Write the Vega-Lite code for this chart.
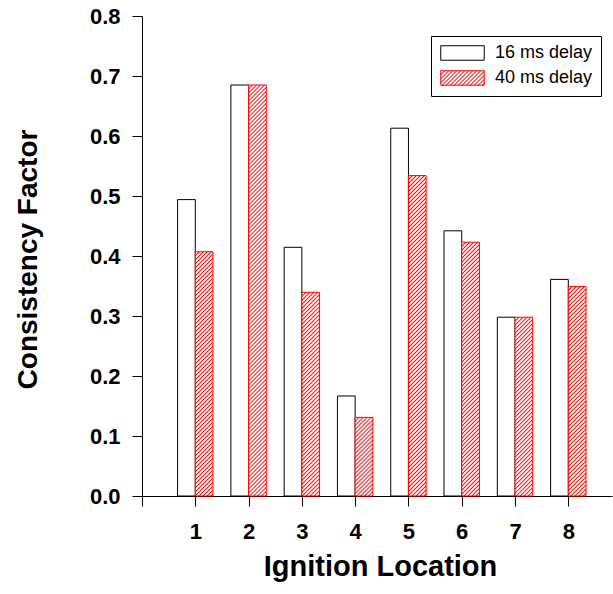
{
  "$schema": "https://vega.github.io/schema/vega-lite/v6.json",
  "width": 470,
  "height": 480,
  "autosize": {"type": "none"},
  "padding": {"left": 142, "top": 16, "right": 1, "bottom": 98},
  "background": "white",
  "params": [
    {"name": "hs", "value": [
      {"offset":0,"color":"red"},{"offset":0.003,"color":"white"},{"offset":0.006,"color":"white"},
      {"offset":0.009,"color":"red"},{"offset":0.012,"color":"white"},{"offset":0.015,"color":"white"},
      {"offset":0.018,"color":"red"},{"offset":0.021,"color":"white"},{"offset":0.024,"color":"white"},
      {"offset":0.027,"color":"red"},{"offset":0.030,"color":"white"},{"offset":0.033,"color":"white"},
      {"offset":0.036,"color":"red"},{"offset":0.039,"color":"white"},{"offset":0.042,"color":"white"},
      {"offset":0.045,"color":"red"},{"offset":0.048,"color":"white"},{"offset":0.051,"color":"white"},
      {"offset":0.054,"color":"red"},{"offset":0.057,"color":"white"},{"offset":0.060,"color":"white"},
      {"offset":0.063,"color":"red"},{"offset":0.066,"color":"white"},{"offset":0.069,"color":"white"},
      {"offset":0.072,"color":"red"},{"offset":0.075,"color":"white"},{"offset":0.078,"color":"white"},
      {"offset":0.081,"color":"red"},{"offset":0.084,"color":"white"},{"offset":0.087,"color":"white"},
      {"offset":0.090,"color":"red"},{"offset":0.093,"color":"white"},{"offset":0.096,"color":"white"},
      {"offset":0.099,"color":"red"},{"offset":0.102,"color":"white"},{"offset":0.105,"color":"white"},
      {"offset":0.108,"color":"red"},{"offset":0.111,"color":"white"},{"offset":0.114,"color":"white"},
      {"offset":0.117,"color":"red"},{"offset":0.120,"color":"white"},{"offset":0.123,"color":"white"},
      {"offset":0.126,"color":"red"},{"offset":0.129,"color":"white"},{"offset":0.132,"color":"white"},
      {"offset":0.135,"color":"red"},{"offset":0.138,"color":"white"},{"offset":0.141,"color":"white"},
      {"offset":0.144,"color":"red"},{"offset":0.147,"color":"white"},{"offset":0.150,"color":"white"},
      {"offset":0.153,"color":"red"},{"offset":0.156,"color":"white"},{"offset":0.159,"color":"white"},
      {"offset":0.162,"color":"red"},{"offset":0.165,"color":"white"},{"offset":0.168,"color":"white"},
      {"offset":0.171,"color":"red"},{"offset":0.174,"color":"white"},{"offset":0.177,"color":"white"},
      {"offset":0.180,"color":"red"},{"offset":0.183,"color":"white"},{"offset":0.186,"color":"white"},
      {"offset":0.189,"color":"red"},{"offset":0.192,"color":"white"},{"offset":0.195,"color":"white"},
      {"offset":0.198,"color":"red"},{"offset":0.201,"color":"white"},{"offset":0.204,"color":"white"},
      {"offset":0.207,"color":"red"},{"offset":0.210,"color":"white"},{"offset":0.213,"color":"white"},
      {"offset":0.216,"color":"red"},{"offset":0.219,"color":"white"},{"offset":0.222,"color":"white"},
      {"offset":0.225,"color":"red"},{"offset":0.228,"color":"white"},{"offset":0.231,"color":"white"},
      {"offset":0.234,"color":"red"},{"offset":0.237,"color":"white"},{"offset":0.240,"color":"white"},
      {"offset":0.243,"color":"red"},{"offset":0.246,"color":"white"},{"offset":0.249,"color":"white"},
      {"offset":0.252,"color":"red"},{"offset":0.255,"color":"white"},{"offset":0.258,"color":"white"},
      {"offset":0.261,"color":"red"},{"offset":0.264,"color":"white"},{"offset":0.267,"color":"white"},
      {"offset":0.270,"color":"red"},{"offset":0.273,"color":"white"},{"offset":0.276,"color":"white"},
      {"offset":0.279,"color":"red"},{"offset":0.282,"color":"white"},{"offset":0.285,"color":"white"},
      {"offset":0.288,"color":"red"},{"offset":0.291,"color":"white"},{"offset":0.294,"color":"white"},
      {"offset":0.297,"color":"red"},{"offset":0.300,"color":"white"},{"offset":0.303,"color":"white"},
      {"offset":0.306,"color":"red"},{"offset":0.309,"color":"white"},{"offset":0.312,"color":"white"},
      {"offset":0.315,"color":"red"},{"offset":0.318,"color":"white"},{"offset":0.321,"color":"white"},
      {"offset":0.324,"color":"red"},{"offset":0.327,"color":"white"},{"offset":0.330,"color":"white"},
      {"offset":0.333,"color":"red"},{"offset":0.336,"color":"white"},{"offset":0.339,"color":"white"},
      {"offset":0.342,"color":"red"},{"offset":0.345,"color":"white"},{"offset":0.348,"color":"white"},
      {"offset":0.351,"color":"red"},{"offset":0.354,"color":"white"},{"offset":0.357,"color":"white"},
      {"offset":0.360,"color":"red"},{"offset":0.363,"color":"white"},{"offset":0.366,"color":"white"},
      {"offset":0.369,"color":"red"},{"offset":0.372,"color":"white"},{"offset":0.375,"color":"white"},
      {"offset":0.378,"color":"red"},{"offset":0.381,"color":"white"},{"offset":0.384,"color":"white"},
      {"offset":0.387,"color":"red"},{"offset":0.390,"color":"white"},{"offset":0.393,"color":"white"},
      {"offset":0.396,"color":"red"},{"offset":0.399,"color":"white"},{"offset":0.402,"color":"white"},
      {"offset":0.405,"color":"red"},{"offset":0.408,"color":"white"},{"offset":0.411,"color":"white"},
      {"offset":0.414,"color":"red"},{"offset":0.417,"color":"white"},{"offset":0.420,"color":"white"},
      {"offset":0.423,"color":"red"},{"offset":0.426,"color":"white"},{"offset":0.429,"color":"white"},
      {"offset":0.432,"color":"red"},{"offset":0.435,"color":"white"},{"offset":0.438,"color":"white"},
      {"offset":0.441,"color":"red"},{"offset":0.444,"color":"white"},{"offset":0.447,"color":"white"},
      {"offset":0.450,"color":"red"},{"offset":0.453,"color":"white"},{"offset":0.456,"color":"white"},
      {"offset":0.459,"color":"red"},{"offset":0.462,"color":"white"},{"offset":0.465,"color":"white"},
      {"offset":0.468,"color":"red"},{"offset":0.471,"color":"white"},{"offset":0.474,"color":"white"},
      {"offset":0.477,"color":"red"},{"offset":0.480,"color":"white"},{"offset":0.483,"color":"white"},
      {"offset":0.486,"color":"red"},{"offset":0.489,"color":"white"},{"offset":0.492,"color":"white"},
      {"offset":0.495,"color":"red"},{"offset":0.498,"color":"white"},{"offset":0.501,"color":"white"},
      {"offset":0.504,"color":"red"},{"offset":0.507,"color":"white"},{"offset":0.510,"color":"white"},
      {"offset":0.513,"color":"red"},{"offset":0.516,"color":"white"},{"offset":0.519,"color":"white"},
      {"offset":0.522,"color":"red"},{"offset":0.525,"color":"white"},{"offset":0.528,"color":"white"},
      {"offset":0.531,"color":"red"},{"offset":0.534,"color":"white"},{"offset":0.537,"color":"white"},
      {"offset":0.540,"color":"red"},{"offset":0.543,"color":"white"},{"offset":0.546,"color":"white"},
      {"offset":0.549,"color":"red"},{"offset":0.552,"color":"white"},{"offset":0.555,"color":"white"},
      {"offset":0.558,"color":"red"},{"offset":0.561,"color":"white"},{"offset":0.564,"color":"white"},
      {"offset":0.567,"color":"red"},{"offset":0.570,"color":"white"},{"offset":0.573,"color":"white"},
      {"offset":0.576,"color":"red"},{"offset":0.579,"color":"white"},{"offset":0.582,"color":"white"},
      {"offset":0.585,"color":"red"},{"offset":0.588,"color":"white"},{"offset":0.591,"color":"white"},
      {"offset":0.594,"color":"red"},{"offset":0.597,"color":"white"},{"offset":0.600,"color":"white"},
      {"offset":0.603,"color":"red"},{"offset":0.606,"color":"white"},{"offset":0.609,"color":"white"},
      {"offset":0.612,"color":"red"},{"offset":0.615,"color":"white"},{"offset":0.618,"color":"white"},
      {"offset":0.621,"color":"red"},{"offset":0.624,"color":"white"},{"offset":0.627,"color":"white"},
      {"offset":0.630,"color":"red"},{"offset":0.633,"color":"white"},{"offset":0.636,"color":"white"},
      {"offset":0.639,"color":"red"},{"offset":0.642,"color":"white"},{"offset":0.645,"color":"white"},
      {"offset":0.648,"color":"red"},{"offset":0.651,"color":"white"},{"offset":0.654,"color":"white"},
      {"offset":0.657,"color":"red"},{"offset":0.660,"color":"white"},{"offset":0.663,"color":"white"},
      {"offset":0.666,"color":"red"},{"offset":0.669,"color":"white"},{"offset":0.672,"color":"white"},
      {"offset":0.675,"color":"red"},{"offset":0.678,"color":"white"},{"offset":0.681,"color":"white"},
      {"offset":0.684,"color":"red"},{"offset":0.687,"color":"white"},{"offset":0.690,"color":"white"},
      {"offset":0.693,"color":"red"},{"offset":0.696,"color":"white"},{"offset":0.699,"color":"white"},
      {"offset":0.702,"color":"red"},{"offset":0.705,"color":"white"},{"offset":0.708,"color":"white"},
      {"offset":0.711,"color":"red"},{"offset":0.714,"color":"white"},{"offset":0.717,"color":"white"},
      {"offset":0.720,"color":"red"},{"offset":0.723,"color":"white"},{"offset":0.726,"color":"white"},
      {"offset":0.729,"color":"red"},{"offset":0.732,"color":"white"},{"offset":0.735,"color":"white"},
      {"offset":0.738,"color":"red"},{"offset":0.741,"color":"white"},{"offset":0.744,"color":"white"},
      {"offset":0.747,"color":"red"},{"offset":0.750,"color":"white"},{"offset":0.753,"color":"white"},
      {"offset":0.756,"color":"red"},{"offset":0.759,"color":"white"},{"offset":0.762,"color":"white"},
      {"offset":0.765,"color":"red"},{"offset":0.768,"color":"white"},{"offset":0.771,"color":"white"},
      {"offset":0.774,"color":"red"},{"offset":0.777,"color":"white"},{"offset":0.780,"color":"white"},
      {"offset":0.783,"color":"red"},{"offset":0.786,"color":"white"},{"offset":0.789,"color":"white"},
      {"offset":0.792,"color":"red"},{"offset":0.795,"color":"white"},{"offset":0.798,"color":"white"},
      {"offset":0.801,"color":"red"},{"offset":0.804,"color":"white"},{"offset":0.807,"color":"white"},
      {"offset":0.810,"color":"red"},{"offset":0.813,"color":"white"},{"offset":0.816,"color":"white"},
      {"offset":0.819,"color":"red"},{"offset":0.822,"color":"white"},{"offset":0.825,"color":"white"},
      {"offset":0.828,"color":"red"},{"offset":0.831,"color":"white"},{"offset":0.834,"color":"white"},
      {"offset":0.837,"color":"red"},{"offset":0.840,"color":"white"},{"offset":0.843,"color":"white"},
      {"offset":0.846,"color":"red"},{"offset":0.849,"color":"white"},{"offset":0.852,"color":"white"},
      {"offset":0.855,"color":"red"},{"offset":0.858,"color":"white"},{"offset":0.861,"color":"white"},
      {"offset":0.864,"color":"red"},{"offset":0.867,"color":"white"},{"offset":0.870,"color":"white"},
      {"offset":0.873,"color":"red"},{"offset":0.876,"color":"white"},{"offset":0.879,"color":"white"},
      {"offset":0.882,"color":"red"},{"offset":0.885,"color":"white"},{"offset":0.888,"color":"white"},
      {"offset":0.891,"color":"red"},{"offset":0.894,"color":"white"},{"offset":0.897,"color":"white"},
      {"offset":0.900,"color":"red"},{"offset":0.903,"color":"white"},{"offset":0.906,"color":"white"},
      {"offset":0.909,"color":"red"},{"offset":0.912,"color":"white"},{"offset":0.915,"color":"white"},
      {"offset":0.918,"color":"red"},{"offset":0.921,"color":"white"},{"offset":0.924,"color":"white"},
      {"offset":0.927,"color":"red"},{"offset":0.930,"color":"white"},{"offset":0.933,"color":"white"},
      {"offset":0.936,"color":"red"},{"offset":0.939,"color":"white"},{"offset":0.942,"color":"white"},
      {"offset":0.945,"color":"red"},{"offset":0.948,"color":"white"},{"offset":0.951,"color":"white"},
      {"offset":0.954,"color":"red"},{"offset":0.957,"color":"white"},{"offset":0.960,"color":"white"},
      {"offset":0.963,"color":"red"},{"offset":0.966,"color":"white"},{"offset":0.969,"color":"white"},
      {"offset":0.972,"color":"red"},{"offset":0.975,"color":"white"},{"offset":1,"color":"white"}
    ]}
  ],
  "data": {
    "values": [
      {"loc": 1, "delay": "16 ms delay", "cf": 0.494},
      {"loc": 1, "delay": "40 ms delay", "cf": 0.407},
      {"loc": 2, "delay": "16 ms delay", "cf": 0.685},
      {"loc": 2, "delay": "40 ms delay", "cf": 0.685},
      {"loc": 3, "delay": "16 ms delay", "cf": 0.4145},
      {"loc": 3, "delay": "40 ms delay", "cf": 0.3395},
      {"loc": 4, "delay": "16 ms delay", "cf": 0.1667},
      {"loc": 4, "delay": "40 ms delay", "cf": 0.131},
      {"loc": 5, "delay": "16 ms delay", "cf": 0.613},
      {"loc": 5, "delay": "40 ms delay", "cf": 0.534},
      {"loc": 6, "delay": "16 ms delay", "cf": 0.442},
      {"loc": 6, "delay": "40 ms delay", "cf": 0.423},
      {"loc": 7, "delay": "16 ms delay", "cf": 0.298},
      {"loc": 7, "delay": "40 ms delay", "cf": 0.298},
      {"loc": 8, "delay": "16 ms delay", "cf": 0.361},
      {"loc": 8, "delay": "40 ms delay", "cf": 0.349}
    ]
  },
  "encoding": {
    "x": {
      "field": "loc",
      "type": "quantitative",
      "scale": {"domain": [0, 8.82], "nice": false, "zero": false, "padding": 0},
      "axis": {
        "title": "Ignition Location",
        "values": [0, 1, 2, 3, 4, 5, 6, 7, 8],
        "labelExpr": "datum.value == 0 ? '' : datum.label",
        "tickSize": 10,
        "labelPadding": 15,
        "labelFlush": false,
        "labelOverlap": false,
        "titleBaseline": "alphabetic",
        "titleX": 238,
        "titleY": 79
      }
    },
    "y": {
      "field": "cf",
      "type": "quantitative",
      "scale": {"domain": [0, 0.8], "nice": false},
      "axis": {
        "title": "Consistency Factor",
        "values": [0, 0.1, 0.2, 0.3, 0.4, 0.5, 0.6, 0.7, 0.8],
        "format": ".1f",
        "tickSize": 10,
        "labelPadding": 12,
        "labelOverlap": false,
        "titleBaseline": "alphabetic",
        "titleX": -106,
        "titleY": 243,
        "titleFontSize": 28
      }
    }
  },
  "layer": [
    {
      "transform": [{"filter": "datum.delay === '16 ms delay'"}],
      "mark": {"type": "bar", "width": 17.7, "xOffset": -8.85, "fill": "white", "stroke": "black", "strokeWidth": 1, "fillOpacity": 1}
    },
    {
      "transform": [{"filter": "datum.delay === '40 ms delay'"}],
      "mark": {
        "type": "bar", "width": 17.7, "xOffset": 8.85, "stroke": "red", "strokeWidth": 1, "fillOpacity": 1,
        "fill": {"expr": "{gradient: 'linear', x1: 0, y1: 0, x2: 4 / (0.1593 * (1 + pow(datum.cf * 600 / 17.7, 2))), y2: 4 / (0.1593 * (1 + pow(datum.cf * 600 / 17.7, 2))) * datum.cf * 600 / 17.7, stops: hs}"}
      }
    },
    {
      "transform": [{"filter": "false"}],
      "mark": {"type": "bar"},
      "encoding": {
        "fill": {
          "field": "delay",
          "type": "nominal",
          "scale": {"domain": ["16 ms delay", "40 ms delay"], "range": ["white", {"expr": "{gradient: 'linear', x1: 0, y1: 0, x2: 9.195, y2: 3.065, stops: hs}"}]},
          "legend": {
            "orient": "none", "legendX": 289, "legendY": 20, "title": null, "direction": "vertical",
            "strokeColor": "black", "fillColor": "white", "padding": 8, "rowPadding": 5,
            "labelFont": "Liberation Sans", "labelFontSize": 18, "labelColor": "black", "labelOffset": 38,
            "symbolType": "M-1,-1H5V1H-1Z", "symbolSize": 210, "symbolStrokeWidth": 1, "symbolOpacity": 1
          }
        },
        "stroke": {
          "field": "delay",
          "type": "nominal",
          "scale": {"domain": ["16 ms delay", "40 ms delay"], "range": ["black", "red"]},
          "legend": {
            "orient": "none", "legendX": 289, "legendY": 20, "title": null, "direction": "vertical",
            "strokeColor": "black", "fillColor": "white", "padding": 8, "rowPadding": 5,
            "labelFont": "Liberation Sans", "labelFontSize": 18, "labelColor": "black", "labelOffset": 38,
            "symbolType": "M-1,-1H5V1H-1Z", "symbolSize": 210, "symbolStrokeWidth": 1, "symbolOpacity": 1
          }
        }
      }
    }
  ],
  "config": {
    "view": {"stroke": null},
    "axis": {
      "grid": false,
      "domainColor": "black",
      "domainWidth": 1,
      "tickColor": "black",
      "tickWidth": 1,
      "labelColor": "black",
      "titleColor": "black",
      "labelFont": "Liberation Sans",
      "titleFont": "Liberation Sans",
      "labelFontWeight": "bold",
      "titleFontWeight": "bold",
      "labelFontSize": 22,
      "titleFontSize": 29
    }
  }
}
